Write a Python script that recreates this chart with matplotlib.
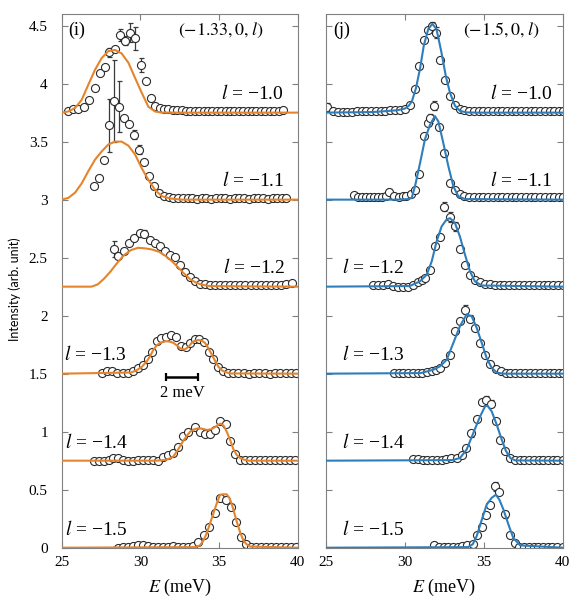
import numpy as np
import matplotlib
matplotlib.use("Agg")
import matplotlib.pyplot as plt

plt.rcParams['font.family'] = 'serif'
plt.rcParams['font.serif'] = ['Liberation Serif', 'DejaVu Serif']
plt.rcParams['mathtext.fontset'] = 'stix'

# === Data: left panel (-1.33, 0, l) ===
i10_E = [25.43, 25.72, 26.06, 26.42, 26.74, 27.10, 27.42, 27.73, 28.00, 28.37, 28.71, 29.02, 29.32, 29.66, 30.02, 30.34, 30.66, 30.93,
         31.22, 31.50, 31.78, 32.06, 32.34, 32.62, 32.90, 33.18, 33.46, 33.74, 34.02, 34.30, 34.58, 34.86, 35.14, 35.42, 35.70,
         35.98, 36.26, 36.54, 36.82, 37.10, 37.38, 37.66, 37.94, 38.22, 38.50, 38.78, 39.06]
i10_I = [3.76, 3.78, 3.78, 3.80, 3.86, 3.96, 4.09, 4.14, 4.27, 4.30, 4.42, 4.37, 4.44, 4.39, 4.16, 4.02, 3.88, 3.81,
         3.79, 3.785, 3.78, 3.775, 3.77, 3.77, 3.765, 3.765, 3.76, 3.76, 3.76, 3.76, 3.76, 3.76, 3.76, 3.76, 3.76,
         3.76, 3.76, 3.76, 3.76, 3.76, 3.76, 3.76, 3.76, 3.765, 3.765, 3.765, 3.77]
i10_err = {28.00: 0.04, 28.71: 0.05, 29.02: 0.04, 29.32: 0.08, 29.66: 0.10, 30.02: 0.06}

i11_E = [27.05, 27.37, 27.69, 27.99, 28.30, 28.64, 28.96, 29.28, 29.58, 29.93, 30.25, 30.57, 30.87, 31.20, 31.50,
         31.80, 32.10, 32.40, 32.70, 33.00, 33.30, 33.60, 33.90, 34.20, 34.50, 34.80, 35.10, 35.40, 35.70, 36.00,
         36.30, 36.60, 36.90, 37.20, 37.50, 37.80, 38.10, 38.40, 38.70, 39.00, 39.28]
i11_I = [3.115, 3.19, 3.34, 3.64, 3.85, 3.80, 3.70, 3.65, 3.56, 3.43, 3.325, 3.20, 3.115, 3.06, 3.03,
         3.02, 3.015, 3.015, 3.01, 3.01, 3.01, 3.005, 3.01, 3.01, 3.005, 3.01, 3.01, 3.01, 3.005, 3.01,
         3.01, 3.01, 3.005, 3.01, 3.01, 3.01, 3.005, 3.01, 3.01, 3.01, 3.01]
i11_err = {27.99: 0.23, 28.30: 0.35, 28.64: 0.22, 29.58: 0.04, 29.93: 0.04}

i12_E = [28.32, 28.60, 28.96, 29.30, 29.62, 29.98, 30.25, 30.60, 30.93, 31.25, 31.57, 31.88, 32.20, 32.52, 32.84, 33.16, 33.48, 33.80,
         34.12, 34.44, 34.76, 35.08, 35.40, 35.72, 36.04, 36.36, 36.68, 37.00, 37.32, 37.64, 37.96, 38.28, 38.60, 38.92, 39.24, 39.62]
i12_I = [2.575, 2.51, 2.555, 2.63, 2.67, 2.71, 2.705, 2.655, 2.625, 2.60, 2.555, 2.525, 2.505, 2.44, 2.38, 2.335, 2.30, 2.275,
         2.27, 2.265, 2.265, 2.26, 2.265, 2.265, 2.26, 2.26, 2.265, 2.265, 2.26, 2.26, 2.265, 2.265, 2.265, 2.265, 2.27, 2.28]
i12_err = {28.32: 0.07, 29.98: 0.03, 30.25: 0.03}

i13_E = [27.54, 27.86, 28.22, 28.53, 28.88, 29.20, 29.51, 29.83, 30.15, 30.47, 30.72, 31.04, 31.31, 31.63, 31.95, 32.27, 32.58,
         32.90, 33.16, 33.47, 33.75, 34.07, 34.38, 34.64, 34.96, 35.27, 35.59,
         35.90, 36.23, 36.57, 36.90, 37.23, 37.57, 37.90, 38.23, 38.57, 38.90, 39.23, 39.57, 39.90]
i13_I = [1.51, 1.52, 1.525, 1.51, 1.505, 1.51, 1.525, 1.545, 1.575, 1.625, 1.69, 1.78, 1.805, 1.82, 1.83, 1.82, 1.74,
         1.73, 1.765, 1.80, 1.80, 1.77, 1.69, 1.625, 1.56, 1.525, 1.51,
         1.505, 1.505, 1.505, 1.50, 1.505, 1.505, 1.505, 1.50, 1.505, 1.505, 1.505, 1.505, 1.51]
i13_err = {}

i14_E = [27.07, 27.39, 27.71, 28.03, 28.28, 28.60, 28.92, 29.24, 29.56, 29.87, 30.19, 30.51, 30.83, 31.14, 31.46, 31.78,
         32.10, 32.41, 32.73, 33.05, 33.48, 33.79, 34.11, 34.43, 34.75, 35.06, 35.45, 35.70, 36.02, 36.34,
         36.66, 36.98, 37.30, 37.62, 37.94, 38.26, 38.58, 38.90, 39.22, 39.54, 39.83]
i14_I = [0.747, 0.75, 0.75, 0.758, 0.77, 0.77, 0.76, 0.75, 0.745, 0.76, 0.76, 0.755, 0.755, 0.75, 0.78, 0.80,
         0.82, 0.87, 0.96, 0.995, 1.04, 1.00, 0.98, 0.98, 1.015, 1.095, 1.07, 0.92, 0.81, 0.76,
         0.755, 0.755, 0.755, 0.755, 0.755, 0.755, 0.755, 0.755, 0.755, 0.755, 0.76]
i14_err = {}

i15_E = [28.60, 28.92, 29.24, 29.56, 29.87, 30.19, 30.51, 30.83, 31.14, 31.46, 31.78, 32.10, 32.41, 32.73, 33.05, 33.37,
         33.68, 34.05, 34.38, 34.75, 35.06, 35.45, 35.76, 36.08, 36.38, 36.72,
         37.04, 37.36, 37.68, 38.00, 38.32, 38.64, 38.96, 39.28, 39.60, 39.90]
i15_I = [0.0, 0.005, 0.01, 0.015, 0.02, 0.025, 0.015, 0.01, 0.008, 0.01, 0.01, 0.012, 0.008, 0.005, 0.01, 0.015,
         0.045, 0.11, 0.18, 0.295, 0.43, 0.41, 0.355, 0.225, 0.095, 0.03,
         0.01, 0.008, 0.008, 0.008, 0.008, 0.008, 0.008, 0.008, 0.008, 0.005]
i15_err = {}

# fits, left panel
f10_E = [25, 25.42, 25.85, 26.27, 26.69, 27.12, 27.54, 27.96, 28.39, 28.81, 29.24, 29.66, 30.09, 30.51, 30.93, 31.35, 40]
f10_I = [3.75, 3.76, 3.79, 3.86, 3.99, 4.12, 4.22, 4.28, 4.29, 4.26, 4.18, 4.05, 3.92, 3.80, 3.76, 3.75, 3.75]
f11_E = [25, 25.42, 25.85, 26.27, 26.69, 27.12, 27.54, 27.96, 28.39, 28.81, 29.24, 29.66, 30.09, 30.51, 30.93, 31.36, 31.9, 32.6, 40]
f11_I = [3.0, 3.015, 3.06, 3.14, 3.245, 3.345, 3.415, 3.475, 3.50, 3.50, 3.465, 3.39, 3.27, 3.17, 3.085, 3.03, 3.01, 3.0, 3.0]
f12_E = [25, 26.9, 27.3, 27.7, 28.1, 28.5, 28.95, 29.4, 29.85, 30.3, 30.75, 31.2, 31.6, 32.0, 32.4, 32.8, 33.2, 33.6, 34.0, 34.4, 40]
f12_I = [2.25, 2.25, 2.27, 2.32, 2.38, 2.45, 2.52, 2.565, 2.585, 2.58, 2.57, 2.55, 2.515, 2.47, 2.415, 2.36, 2.31, 2.28, 2.265, 2.255, 2.25]
f13_E = [25, 29.4, 29.77, 30.1, 30.4, 30.62, 30.82, 31.05, 31.25, 31.46, 31.67, 31.9, 32.1, 32.3, 32.52, 32.7, 32.84, 33.05,
         33.26, 33.47, 33.68, 33.9, 34.11, 34.32, 34.54, 34.75, 34.96, 35.17, 35.38, 35.7, 40]
f13_I = [1.5, 1.51, 1.53, 1.56, 1.605, 1.65, 1.705, 1.745, 1.765, 1.775, 1.78, 1.775, 1.765, 1.745, 1.72, 1.71, 1.71, 1.73,
         1.765, 1.785, 1.79, 1.785, 1.765, 1.72, 1.665, 1.61, 1.56, 1.53, 1.515, 1.502, 1.5]
f14_E = [25, 31.0, 31.5, 31.8, 32.1, 32.37, 32.63, 32.9, 33.16, 33.42, 33.69, 33.95, 34.22, 34.48, 34.75, 34.95, 35.11, 35.3,
         35.49, 35.7, 35.91, 36.12, 36.34, 36.6, 36.9, 40]
f14_I = [0.75, 0.75, 0.755, 0.765, 0.787, 0.84, 0.90, 0.955, 1.0, 1.02, 1.03, 1.025, 1.015, 1.02, 1.04, 1.06, 1.07, 1.05,
         1.0, 0.93, 0.85, 0.80, 0.773, 0.758, 0.75, 0.75]
f15_E = [25, 33.5, 33.79, 34.0, 34.22, 34.43, 34.64, 34.85, 35.06, 35.2, 35.49, 35.65, 35.8, 35.98, 36.16, 36.35, 36.54, 36.75, 36.96, 40]
f15_I = [0, 0.005, 0.02, 0.06, 0.125, 0.21, 0.295, 0.38, 0.455, 0.46, 0.46, 0.43, 0.38, 0.295, 0.21, 0.13, 0.065, 0.03, 0.01, 0]

# === Data: right panel (-1.5, 0, l) ===
j10_E = [25.08, 25.46, 25.76, 26.06, 26.36, 26.66, 26.96, 27.26, 27.56, 27.86, 28.16, 28.46, 28.76, 29.06, 29.36, 29.66, 30.00,
         30.32, 30.64, 30.91, 31.20, 31.47, 31.72, 31.96, 32.22, 32.52, 32.86, 33.17,
         33.47, 33.77, 34.07, 34.37, 34.67, 34.97, 35.27, 35.57, 35.87, 36.17, 36.47, 36.77, 37.07, 37.37, 37.67, 37.97,
         38.27, 38.57, 38.87, 39.17, 39.47, 39.77, 40.00]
j10_I = [3.80, 3.765, 3.755, 3.755, 3.755, 3.755, 3.76, 3.76, 3.76, 3.76, 3.765, 3.765, 3.765, 3.77, 3.77, 3.775, 3.785,
         3.815, 3.95, 4.15, 4.375, 4.46, 4.495, 4.44, 4.20, 4.03, 3.89, 3.815,
         3.785, 3.775, 3.765, 3.76, 3.76, 3.76, 3.76, 3.76, 3.76, 3.76, 3.76, 3.76, 3.76, 3.76, 3.76, 3.76,
         3.76, 3.76, 3.76, 3.76, 3.76, 3.76, 3.765]
j10_err = {25.08: 0.03, 30.91: 0.02, 31.20: 0.02, 31.72: 0.04, 31.96: 0.05}

j11_E = [26.80, 27.05, 27.30, 27.55, 27.80, 28.05, 28.30, 28.55, 28.80, 29.00, 29.30, 29.60, 29.85, 30.10, 30.37, 30.64,
         30.91, 31.21, 31.45, 31.62, 31.87, 32.16, 32.50, 32.86, 33.17, 33.47,
         33.77, 34.07, 34.37, 34.67, 34.97, 35.27, 35.57, 35.87, 36.17, 36.47, 36.77, 37.07, 37.37, 37.67, 37.97, 38.27,
         38.57, 38.87, 39.17, 39.47, 39.77, 40.00]
j11_I = [3.04, 3.025, 3.02, 3.02, 3.02, 3.02, 3.02, 3.025, 3.03, 3.065, 3.03, 3.025, 3.03, 3.035, 3.045, 3.08,
         3.22, 3.545, 3.66, 3.70, 3.81, 3.63, 3.40, 3.14, 3.08, 3.045,
         3.03, 3.025, 3.025, 3.02, 3.02, 3.02, 3.02, 3.02, 3.02, 3.02, 3.02, 3.02, 3.02, 3.02, 3.02, 3.02,
         3.02, 3.02, 3.02, 3.02, 3.02, 3.02]
j11_err = {29.00: 0.03, 31.62: 0.04, 31.87: 0.04, 32.50: 0.03}

j12_E = [28.00, 28.32, 28.64, 28.95, 29.27, 29.59, 29.90, 30.22, 30.54, 30.85, 31.08, 31.27, 31.59, 31.91, 32.20, 32.50,
         32.83, 33.17, 33.49, 33.81, 34.13, 34.44, 34.76,
         35.07, 35.38, 35.69, 36.00, 36.31, 36.62, 36.93, 37.24, 37.55, 37.86, 38.17, 38.48, 38.79, 39.10, 39.41, 39.72, 40.00]
j12_I = [2.267, 2.262, 2.267, 2.276, 2.259, 2.247, 2.244, 2.247, 2.267, 2.287, 2.31, 2.325, 2.397, 2.60, 2.675, 2.94,
         2.85, 2.77, 2.575, 2.44, 2.35, 2.31, 2.29,
         2.275, 2.27, 2.265, 2.265, 2.265, 2.265, 2.265, 2.265, 2.265, 2.265, 2.265, 2.265, 2.265, 2.265, 2.265, 2.265, 2.265]
j12_err = {32.50: 0.04, 32.83: 0.04, 33.17: 0.04}

j13_E = [29.30, 29.60, 29.90, 30.20, 30.50, 30.80, 31.10, 31.40, 31.70, 32.00, 32.25, 32.55, 32.86, 33.17, 33.49, 33.81,
         34.13, 34.44, 34.76, 35.08, 35.42, 35.75, 36.07,
         36.38, 36.69, 37.00, 37.31, 37.62, 37.93, 38.24, 38.55, 38.86, 39.17, 39.48, 39.79, 40.00]
j13_I = [1.51, 1.505, 1.505, 1.505, 1.505, 1.51, 1.51, 1.515, 1.52, 1.53, 1.55, 1.59, 1.665, 1.865, 1.95, 2.05,
         1.975, 1.895, 1.765, 1.665, 1.585, 1.54, 1.52,
         1.51, 1.51, 1.51, 1.51, 1.51, 1.51, 1.51, 1.51, 1.51, 1.51, 1.51, 1.51, 1.51]
j13_err = {33.81: 0.04, 34.13: 0.03}

j14_E = [30.53, 30.83, 31.13, 31.43, 31.73, 32.03, 32.33, 32.63, 32.93, 33.28, 33.60, 33.87, 34.20, 34.55, 34.87, 35.14,
         35.46, 35.78, 36.03, 36.35, 36.66,
         36.97, 37.27, 37.57, 37.87, 38.17, 38.47, 38.77, 39.07, 39.37, 39.67, 40.00]
j14_I = [0.765, 0.765, 0.76, 0.755, 0.755, 0.755, 0.76, 0.765, 0.77, 0.775, 0.80, 0.86, 0.985, 1.11, 1.255, 1.275,
         1.24, 1.09, 0.93, 0.83, 0.77,
         0.757, 0.757, 0.757, 0.757, 0.757, 0.757, 0.757, 0.757, 0.757, 0.757, 0.76]
j14_err = {34.20: 0.03, 35.14: 0.03, 35.46: 0.03}

j15_E = [31.86, 32.15, 32.45, 32.75, 33.05, 33.35, 33.65, 33.95, 34.30, 34.60, 34.88, 35.15, 35.42, 35.68, 35.97, 36.35,
         36.63, 36.95,
         37.25, 37.55, 37.85, 38.15, 38.45, 38.75, 39.05, 39.35, 39.65, 40.00]
j15_I = [0.02, 0.008, 0.005, 0.005, 0.008, 0.01, 0.012, 0.02, 0.035, 0.11, 0.18, 0.28, 0.37, 0.53, 0.48, 0.29,
         0.11, 0.04,
         0.01, 0.008, 0.008, 0.008, 0.008, 0.008, 0.008, 0.008, 0.008, 0.01]
j15_err = {33.95: 0.02, 35.68: 0.04, 36.35: 0.03}

# fits, right panel
g10_E = [25, 28.0, 29.5, 30.0, 30.25, 30.45, 30.7, 30.96, 31.2, 31.48, 31.74, 32.0, 32.3, 32.6, 32.86, 33.17, 33.49, 33.9, 34.5, 40]
g10_I = [3.75, 3.755, 3.77, 3.785, 3.81, 3.85, 3.96, 4.13, 4.33, 4.47, 4.515, 4.47, 4.28, 4.06, 3.92, 3.81, 3.765, 3.752, 3.75, 3.75]
g11_E = [25, 29.5, 30.2, 30.43, 30.64, 30.96, 31.27, 31.59, 31.9, 32.12, 32.43, 32.75, 33.07, 33.38, 33.8, 40]
g11_I = [3.0, 3.0, 3.005, 3.015, 3.115, 3.315, 3.52, 3.645, 3.72, 3.675, 3.49, 3.29, 3.115, 3.03, 3.005, 3.0]
g12_E = [25, 30.3, 30.96, 31.38, 31.7, 32.01, 32.33, 32.65, 32.86, 33.17, 33.49, 33.81, 34.13, 34.44, 34.87, 40]
g12_I = [2.25, 2.255, 2.296, 2.353, 2.468, 2.64, 2.77, 2.83, 2.84, 2.80, 2.68, 2.525, 2.38, 2.295, 2.26, 2.25]
g13_E = [25, 31.0, 31.8, 32.22, 32.65, 33.07, 33.49, 33.91, 34.23, 34.55, 34.87, 35.18, 35.5, 35.82, 36.2, 40]
g13_I = [1.5, 1.505, 1.534, 1.563, 1.62, 1.765, 1.91, 2.01, 1.995, 1.895, 1.765, 1.635, 1.55, 1.51, 1.5, 1.5]
g14_E = [25, 33.0, 33.49, 33.91, 34.34, 34.76, 35.08, 35.23, 35.5, 35.82, 36.14, 36.4, 36.7, 37.0, 40]
g14_I = [0.75, 0.755, 0.773, 0.845, 0.99, 1.13, 1.218, 1.225, 1.175, 1.06, 0.93, 0.835, 0.77, 0.752, 0.75]
g15_E = [25, 34.0, 34.3, 34.55, 34.87, 35.18, 35.5, 35.77, 36.0, 36.24, 36.56, 36.87, 37.3, 40]
g15_I = [0, 0.005, 0.03, 0.1, 0.24, 0.37, 0.43, 0.457, 0.41, 0.33, 0.2, 0.084, 0.02, 0]

l_labels = ['1.0', '1.1', '1.2', '1.3', '1.4', '1.5']
y_ticks = [0, 0.5, 1, 1.5, 2, 2.5, 3, 3.5, 4, 4.5]
y_ticklabels = ['0', '0.5', '1', '1.5', '2', '2.5', '3', '3.5', '4', '4.5']
x_ticks = [25, 30, 35, 40]

left_series = [(i10_E, i10_I, i10_err, f10_E, f10_I), (i11_E, i11_I, i11_err, f11_E, f11_I),
               (i12_E, i12_I, i12_err, f12_E, f12_I), (i13_E, i13_I, i13_err, f13_E, f13_I),
               (i14_E, i14_I, i14_err, f14_E, f14_I), (i15_E, i15_I, i15_err, f15_E, f15_I)]
right_series = [(j10_E, j10_I, j10_err, g10_E, g10_I), (j11_E, j11_I, j11_err, g11_E, g11_I),
                (j12_E, j12_I, j12_err, g12_E, g12_I), (j13_E, j13_I, j13_err, g13_E, g13_I),
                (j14_E, j14_I, j14_err, g14_E, g14_I), (j15_E, j15_I, j15_err, g15_E, g15_I)]

ORANGE = '#E5842B'
BLUE = '#2F7EBC'
SPINE = '#808080'

fig = plt.figure(figsize=(5.72, 6.01), dpi=100)
axL = fig.add_axes([61.7 / 572, 53.3 / 601, 236 / 572, 533.7 / 601])
axR = fig.add_axes([326 / 572, 53.3 / 601, 236.7 / 572, 533.7 / 601])


def draw_panel(ax, series, color):
    for E, I, errs, fE, fI in series:
        assert len(E) == len(I), (len(E), len(I))
        ax.plot(E, I, 'o', ms=5.8, mfc='white', mec='#2a2a2a', mew=0.8, zorder=2)
        eb = [(e, i, errs[e]) for e, i in zip(E, I) if e in errs]
        if eb:
            ex, ey, ee = zip(*eb)
            ax.errorbar(ex, ey, yerr=ee, fmt='none', ecolor='#3a3a3a', elinewidth=0.9,
                        capsize=1.8, capthick=0.9, zorder=1.5)
        ax.plot(fE, fI, color=color, lw=1.5, zorder=3)
    ax.set_xlim(25, 40)
    ax.set_ylim(0, 4.6)
    ax.set_xticks(x_ticks)
    ax.set_yticks(y_ticks)
    for s in ax.spines.values():
        s.set_color(SPINE)
        s.set_linewidth(0.8)
    ax.tick_params(direction='in', top=True, right=True, length=4, width=0.8,
                   color=SPINE, labelsize=11)
    ax.tick_params(axis='x', pad=6)
    ax.tick_params(axis='y', pad=10)
    ax.set_xlabel('$E$ (meV)', fontsize=13, labelpad=6)


draw_panel(axL, left_series, ORANGE)
draw_panel(axR, right_series, BLUE)
axL.set_yticklabels(y_ticklabels)
axR.set_yticklabels([])

# level labels
left_pos = [(39.13, 3.87, 'right'), (39.13, 3.12, 'right'), (39.2, 2.37, 'right'),
            (25.15, 1.62, 'left'), (25.2, 0.86, 'left'), (25.2, 0.11, 'left')]
right_pos = [(39.37, 3.87, 'right'), (39.37, 3.12, 'right'), (26.0, 2.37, 'left'),
             (26.0, 1.62, 'left'), (26.0, 0.86, 'left'), (26.0, 0.11, 'left')]
for lab, (x, y, ha) in zip(l_labels, left_pos):
    axL.text(x, y, '$l$ = \u2212' + lab, ha=ha, va='baseline', fontsize=14, zorder=4)
for lab, (x, y, ha) in zip(l_labels, right_pos):
    axR.text(x, y, '$l$ = \u2212' + lab, ha=ha, va='baseline', fontsize=14, zorder=4)

axL.text(25.4, 4.42, '(i)', fontsize=13, va='baseline')
axL.text(37.8, 4.42, r'$(-1.33,0,l)$', fontsize=13, va='baseline', ha='right')
axR.text(25.43, 4.42, '(j)', fontsize=13, va='baseline')
axR.text(38.5, 4.42, r'$(-1.5,0,l)$', fontsize=13, va='baseline', ha='right')

# 2 meV scale bar
sb_E = [31.65, 33.65]
sb_I = 1.47
axL.plot(sb_E, [sb_I, sb_I], color='k', lw=1.8, zorder=4, solid_capstyle='butt')
axL.plot(sb_E, [sb_I, sb_I], ls='none', marker='|', ms=6, mew=1.6, color='k', zorder=4)
axL.text(sum(sb_E) / 2, 1.405, '2 meV', ha='center', va='top', fontsize=12)

fig.text(15 / 572, 1 - 289 / 601, 'Intensity (arb. unit)', rotation=90, va='center', ha='center',
         fontsize=9, family=['Lato', 'DejaVu Sans'])

fig.savefig('out.png', dpi=100)
